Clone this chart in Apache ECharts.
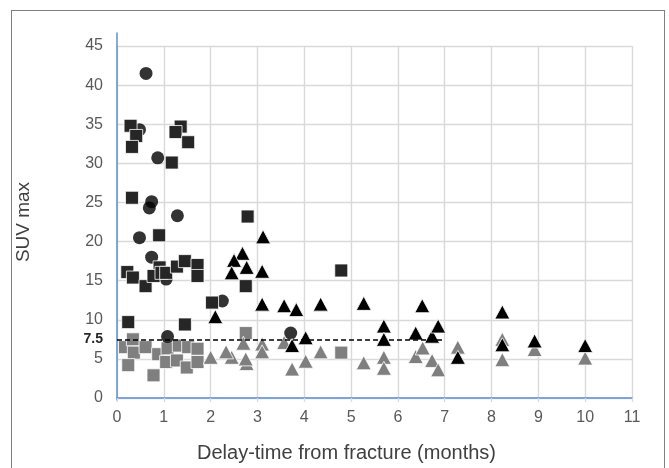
<!DOCTYPE html>
<html>
<head>
<meta charset="utf-8">
<script src="https://cdn.jsdelivr.net/npm/echarts@6/dist/echarts.min.js"></script>
<style>
  html, body { margin: 0; padding: 0; background: #fff; }
  #frame {
    position: absolute; left: 11px; top: 10px; width: 654px; height: 470px;
    border: 1px solid #7f7f7f; box-sizing: border-box;
  }
  #chart { position: absolute; left: 0; top: 0; width: 669px; height: 468px; }
</style>
</head>
<body>
<div id="frame"></div>
<div id="chart"></div>
<script>
// [months, SUV max]
var blackSquares = [
  [0.29, 34.8], [0.41, 33.5], [0.32, 32.1], [1.17, 30.1], [1.36, 34.7], [1.25, 34.0], [1.52, 32.7],
  [0.32, 25.6], [0.9, 20.8], [0.22, 16.1], [0.34, 15.4], [0.61, 14.3], [0.91, 16.7], [0.78, 15.6],
  [0.95, 16.0], [1.05, 16.0], [1.28, 16.8], [1.45, 17.5], [1.72, 17.0], [1.72, 15.6],
  [2.03, 12.2], [0.24, 9.7], [1.45, 9.4], [2.79, 23.2], [2.75, 14.3], [4.79, 16.3]
];
var blackCircles = [
  [0.62, 41.5], [0.48, 34.3], [0.87, 30.7], [0.74, 25.1], [0.69, 24.3], [1.29, 23.3],
  [0.48, 20.5], [0.74, 18.0], [1.05, 15.2], [2.25, 12.4], [1.08, 7.85], [3.71, 8.3]
];
var blackTriangles = [
  [2.1, 10.4], [3.12, 20.6], [2.68, 18.5], [2.5, 17.6], [2.77, 16.7], [2.45, 16.0], [3.1, 16.2],
  [3.1, 12.0], [3.57, 11.8], [3.83, 11.3], [4.35, 12.0], [5.27, 12.1], [6.52, 11.8],
  [5.7, 9.2], [5.7, 7.5], [6.38, 8.3], [6.73, 7.9], [6.86, 9.2], [4.03, 7.7], [3.74, 6.7],
  [7.28, 5.2], [8.23, 11.0], [8.23, 6.8], [8.92, 7.3], [10.0, 6.7]
];
var graySquares = [
  [0.17, 6.5], [0.34, 7.5], [0.36, 5.8], [0.24, 4.2], [0.61, 6.5], [0.88, 5.6], [0.78, 2.9],
  [1.08, 6.35], [1.05, 4.6], [1.28, 4.8], [1.32, 6.7], [1.49, 3.9], [1.52, 6.5], [1.72, 6.3],
  [1.72, 4.6], [2.75, 8.3], [4.79, 5.8]
];
var grayTriangles = [
  [2.0, 5.2], [2.45, 5.2], [2.33, 5.9], [2.7, 7.0], [2.77, 4.4], [2.75, 5.0], [3.1, 6.9],
  [3.1, 5.9], [3.57, 7.1], [3.74, 3.7], [4.03, 4.7], [4.35, 5.9], [5.27, 4.5], [5.7, 5.2],
  [5.7, 3.8], [6.38, 5.3], [6.53, 6.4], [6.73, 4.8], [6.86, 3.6], [7.28, 6.5], [8.23, 7.5],
  [8.23, 4.9], [8.92, 6.2], [10.0, 5.1]
];
// threshold line
var cutoff = 7.5;
var cutoffEnd = 6.95;

var TEXT = "#595959";
var GRID = "#d9d9d9";
var AXIS = "#5b8fd0";

var chart = echarts.init(document.getElementById("chart"));

function scatter(name, data, symbol, size, color, extra) {
  var s = {
    name: name,
    type: "scatter",
    xAxisIndex: 0,
    yAxisIndex: 0,
    data: data,
    symbol: symbol,
    symbolSize: size,
    itemStyle: { color: color, borderColor: "#ffffff", borderWidth: 0.8, opacity: 1 }
  };
  return Object.assign(s, extra || {});
}

var option = {
  animation: false,
  textStyle: { fontFamily: "Liberation Sans, Arial, sans-serif" },
  grid: [
    { left: 117, right: 37, top: 46, bottom: 68 },
    // only used to draw the taller blue y axis line
    { left: 117, right: 37, top: 33, bottom: 68 }
  ],
  xAxis: [
    {
      type: "value",
      min: 0,
      max: 11,
      interval: 1,
      name: "Delay-time from fracture (months)",
      nameLocation: "middle",
      nameGap: 45,
      nameTextStyle: { fontSize: 20, color: "#404040", padding: [0, 56, 0, 0] },
      axisLine: { show: true, lineStyle: { color: AXIS, width: 1.5 } },
      axisTick: { show: true, length: 4, lineStyle: { color: GRID, width: 1.3 } },
      axisLabel: { fontSize: 16, color: TEXT, margin: 12 },
      splitLine: { show: true, lineStyle: { color: GRID, width: 1.4 } }
    },
    { gridIndex: 1, type: "value", min: 0, max: 11, show: false }
  ],
  yAxis: [
    {
      type: "value",
      min: 0,
      max: 45,
      interval: 5,
      name: "SUV max",
      nameLocation: "middle",
      nameGap: 84,
      nameRotate: 90,
      nameTextStyle: { fontSize: 19, color: "#404040" },
      axisLine: { show: false },
      axisTick: { show: false },
      axisLabel: { fontSize: 16, color: TEXT, margin: 14 },
      splitLine: { show: true, lineStyle: { color: GRID, width: 1.4 } }
    },
    {
      gridIndex: 1,
      type: "value",
      min: 0,
      max: 47,
      axisLine: { show: true, lineStyle: { color: AXIS, width: 1.5 } },
      axisTick: { show: false },
      axisLabel: { show: false },
      splitLine: { show: false }
    }
  ],
  series: [
    scatter("gray squares", graySquares, "rect", 13, "#7f7f7f"),
    scatter("gray triangles", grayTriangles, "triangle", [15, 14], "#7f7f7f"),
    scatter("circles", blackCircles, "circle", 13, "#000000", { itemStyle: { color: "#000" } }),
    scatter("squares", blackSquares, "rect", 13, "#262626"),
    scatter("triangles", blackTriangles, "triangle", [15, 14], "#000000", {
      markLine: {
        silent: true,
        symbol: "none",
        z: 10,
        lineStyle: { type: [5, 3], color: "#000", width: 1.5 },
        label: {
          show: true,
          position: "start",
          distance: 14,
          formatter: "7.5",
          fontSize: 14,
          fontWeight: "bold",
          color: "#262626"
        },
        data: [[{ coord: [0, cutoff] }, { coord: [cutoffEnd, cutoff] }]]
      }
    })
  ]
};

chart.setOption(option);
window.addEventListener("resize", function() {
  chart.resize();
});
</script>
</body>
</html>
